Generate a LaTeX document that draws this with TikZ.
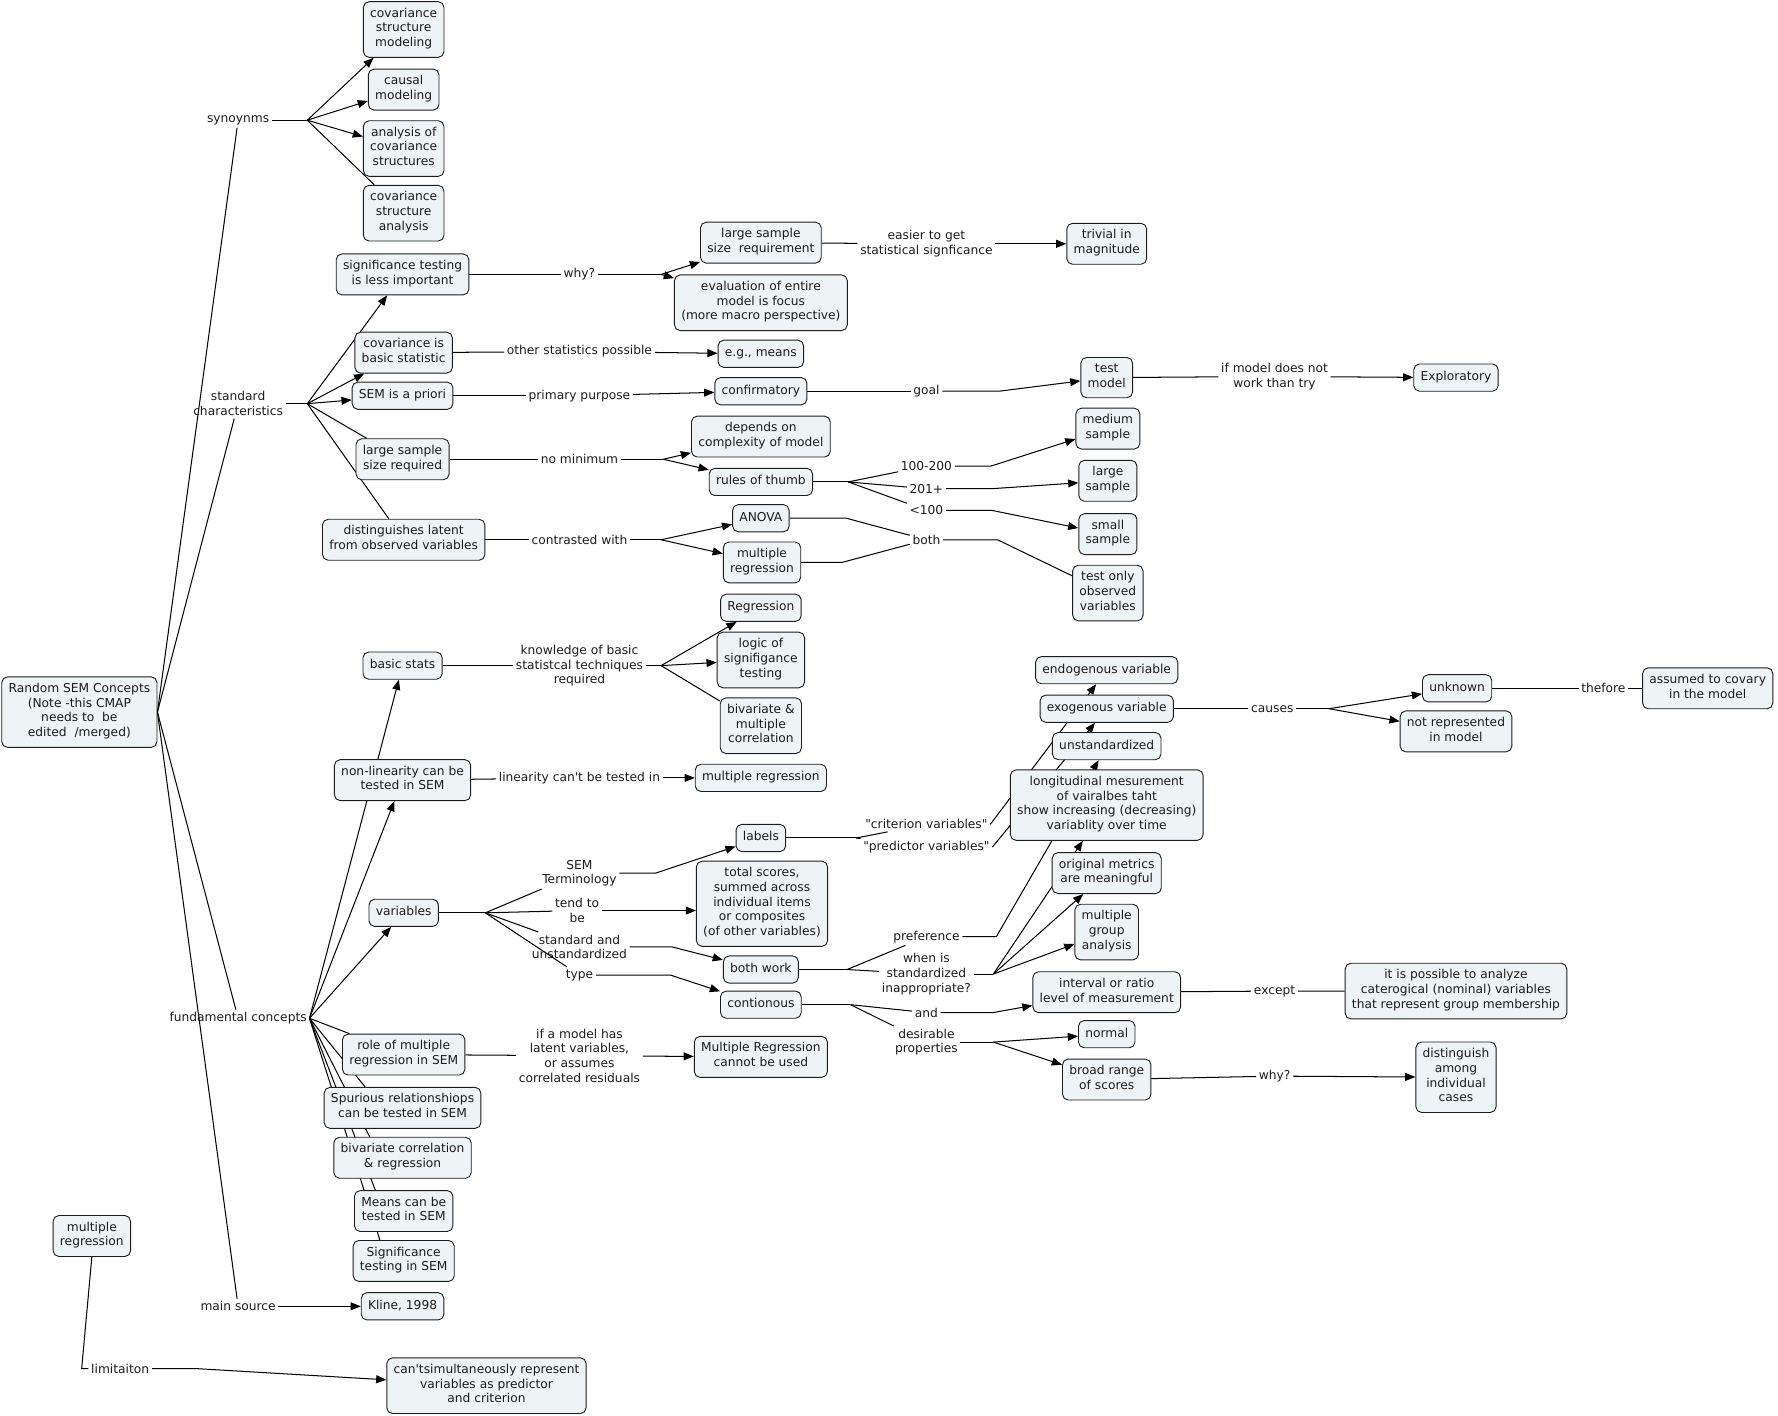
\documentclass[tikz,border=0pt]{standalone}
\usepackage{fontspec}
\setmainfont{DejaVu Sans}
\usetikzlibrary{arrows.meta}
\definecolor{boxfill}{HTML}{EEF3F5}
\definecolor{ink}{HTML}{1C1C1C}
\pgfdeclarelayer{bg}
\pgfsetlayers{bg,main}

\begin{document}
\begin{tikzpicture}[x=1pt,y=-1pt,
	font=\fontsize{10.8}{13}\selectfont, text=ink,
	>={Triangle[length=9pt,width=7pt]},
	cpt/.style={draw=ink, fill=boxfill, rounded corners=5pt, align=center,
		inner xsep=6pt, inner ysep=5.5pt, line width=0.8pt,
		execute at begin node=\strut, execute at end node=\strut},
	lnk/.style={align=center, inner sep=2pt},
	every path/.append style={line width=0.9pt}]
	\useasboundingbox (0,0) rectangle (1568,1248);

	% concepts
	\node[cpt] (random) at (70,628) {Random SEM Concepts\\(Note -this CMAP\\needs to\ \ be\\edited\ \ /merged)};
	\node[cpt] (csm) at (356,26) {covariance\\structure\\modeling};
	\node[cpt] (causal) at (356,79) {causal\\modeling};
	\node[cpt] (acs) at (356,131) {analysis of\\covariance\\structures};
	\node[cpt] (csa) at (356,188) {covariance\\structure\\analysis};
	\node[cpt] (sigless) at (355,242) {significance testing\\is less important};
	\node[cpt] (lss) at (671,214) {large sample\\size\ \ requirement};
	\node[cpt] (evalent) at (671,267) {evaluation of entire\\model is focus\\(more macro perspective)};
	\node[cpt] (trivial) at (976,215) {trivial in\\magnitude};
	\node[cpt] (covbasic) at (356,311) {covariance is\\basic statistic};
	\node[cpt] (egmeans) at (671,312) {e.g., means};
	\node[cpt] (apriori) at (355,349) {SEM is a priori};
	\node[cpt] (confirm) at (671,345) {confirmatory};
	\node[cpt] (testmodel) at (976,333) {test\\model};
	\node[cpt] (explor) at (1284,333) {Exploratory};
	\node[cpt] (lssreq) at (355,405) {large sample\\size required};
	\node[cpt] (depends) at (671,385) {depends on\\complexity of model};
	\node[cpt] (rulesthumb) at (671,425) {rules of thumb};
	\node[cpt] (medium) at (977,378) {medium\\sample};
	\node[cpt] (large) at (977,424) {large\\sample};
	\node[cpt] (small) at (977,471) {small\\sample};
	\node[cpt] (distlat) at (356,476) {distinguishes latent\\from observed variables};
	\node[cpt] (anova) at (671,457) {ANOVA};
	\node[cpt] (mregA) at (672,496) {multiple\\regression};
	\node[cpt] (testonly) at (977,523) {test only\\observed\\variables};
	\node[cpt] (regression) at (671,536) {Regression};
	\node[cpt] (basicstats) at (355,587) {basic stats};
	\node[cpt] (logicsig) at (671,582) {logic of\\signifigance\\testing};
	\node[cpt] (bivmult) at (671,640) {bivariate \&\\multiple\\correlation};
	\node[cpt] (nonlin) at (355,688) {non-linearity can be\\tested in SEM};
	\node[cpt] (mregB) at (671,686) {multiple regression};
	\node[cpt] (endog) at (976,591) {endogenous variable};
	\node[cpt] (exog) at (976,625) {exogenous variable};
	\node[cpt] (unstd) at (976,658) {unstandardized};
	\node[cpt] (longit) at (976,710) {longitudinal mesurement\\of vairalbes taht\\show increasing (decreasing)\\variablity over time};
	\node[cpt] (unknown) at (1285,607) {unknown};
	\node[cpt] (notrep) at (1284,645) {not represented\\in model};
	\node[cpt] (assumed) at (1506,607) {assumed to covary\\in the model};
	\node[cpt] (labels) at (671,739) {labels};
	\node[cpt] (totals) at (672,797) {total scores,\\summed across\\individual items\\or composites\\(of other variables)};
	\node[cpt] (origmet) at (976,770) {original metrics\\are meaningful};
	\node[cpt] (multgrp) at (976,822) {multiple\\group\\analysis};
	\node[cpt] (variables) at (356,805) {variables};
	\node[cpt] (bothwork) at (671,855) {both work};
	\node[cpt] (contin) at (671,886) {contionous};
	\node[cpt] (interval) at (976,875) {interval or ratio\\level of measurement};
	\node[cpt] (catego) at (1284,874) {it is possible to analyze\\caterogical (nominal) variables\\that represent group membership};
	\node[cpt] (normal) at (976,912) {normal};
	\node[cpt] (broad) at (976,952) {broad range\\of scores};
	\node[cpt] (distamong) at (1284,950) {distinguish\\among\\individual\\cases};
	\node[cpt] (rolemr) at (356,930) {role of multiple\\regression in SEM};
	\node[cpt] (mrcannot) at (671,932) {Multiple Regression\\cannot be used};
	\node[cpt] (spurious) at (355,977) {Spurious relationshiops\\can be tested in SEM};
	\node[cpt] (bivcorr) at (355,1021) {bivariate correlation\\\& regression};
	\node[cpt] (means) at (356,1068) {Means can be\\tested in SEM};
	\node[cpt] (sigtest) at (356,1112) {Significance\\testing in SEM};
	\node[cpt] (kline) at (355,1152) {Kline, 1998};
	\node[cpt] (mregC) at (81,1090) {multiple\\regression};
	\node[cpt] (cant) at (429,1222) {can\textquotesingle tsimultaneously represent\\variables as predictor\\and criterion};

	% linking phrases
	\node[lnk] (syn) at (210,106) {synoynms};
	\node[lnk] (stdchar) at (210,356) {standard\\characteristics};
	\node[lnk] (fund) at (210,898) {fundamental concepts};
	\node[lnk] (mainsrc) at (210,1152) {main source};
	\node[lnk] (limit) at (106,1207) {limitaiton};
	\node[lnk] (whyA) at (511,242) {why?};
	\node[lnk] (easier) at (817,215) {easier to get\\statistical signficance};
	\node[lnk] (otherstats) at (511,310) {other statistics possible};
	\node[lnk] (primary) at (511,349) {primary purpose};
	\node[lnk] (goal) at (817,345) {goal};
	\node[lnk] (ifmodel) at (1124,332) {if model does not\\work than try};
	\node[lnk] (nomin) at (511,405) {no minimum};
	\node[lnk] (rmid) at (817,411) {100-200};
	\node[lnk] (rbig) at (817,431) {201+};
	\node[lnk] (rlow) at (817,450) {<100};
	\node[lnk] (contrasted) at (511,476) {contrasted with};
	\node[lnk] (both) at (817,476) {both};
	\node[lnk] (knowledge) at (511,587) {knowledge of basic\\statistcal techniques\\required};
	\node[lnk] (causes) at (1122,625) {causes};
	\node[lnk] (thefore) at (1414,607) {thefore};
	\node[lnk] (linearity) at (511,686) {linearity can\textquotesingle t be tested in};
	\node[lnk] (criterion) at (817,727) {\textquotedbl criterion variables\textquotedbl};
	\node[lnk] (predictor) at (817,747) {\textquotedbl predictor variables\textquotedbl};
	\node[lnk] (semterm) at (511,770) {SEM\\Terminology};
	\node[lnk] (tendto) at (509,803) {tend to\\be};
	\node[lnk] (stdunstd) at (511,835) {standard and\\unstandardized};
	\node[lnk] (type) at (511,860) {type};
	\node[lnk] (preference) at (817,826) {preference};
	\node[lnk] (whenstd) at (817,859) {when is\\standardized\\inappropriate?};
	\node[lnk] (and) at (817,893) {and};
	\node[lnk] (desirable) at (817,919) {desirable\\properties};
	\node[lnk] (except) at (1124,874) {except};
	\node[lnk] (whyB) at (1124,949) {why?};
	\node[lnk] (ifmodelhas) at (511,931) {if a model has\\latent variables,\\or assumes\\correlated residuals};

	% junctions
	\coordinate (jsyn) at (271,106);
	\coordinate (jstd) at (271,356);
	\coordinate (jwhy) at (583,242);
	\coordinate (jnom) at (585,405);
	\coordinate (jrule) at (748,425);
	\coordinate (jcon) at (583,476);
	\coordinate (jkn) at (583,587);
	\coordinate (jcau) at (1172,625);
	\coordinate (jlab) at (755,739);
	\coordinate (jvar) at (428,805);
	\coordinate (jboth) at (747,855);
	\coordinate (jwhen) at (876,859);
	\coordinate (jcont) at (750,886);
	\coordinate (jdes) at (876,919);

	\begin{pgfonlayer}{bg}
	% root
	\draw (random.east) -- (syn);
	\draw (random.east) -- (stdchar);
	\draw (random.east) -- (fund);
	\draw (random.east) -- (mainsrc);
	% synonyms
	\draw (syn) -- (jsyn);
	\draw[->] (jsyn) -- (csm);
	\draw[->] (jsyn) -- (causal);
	\draw[->] (jsyn) -- (acs);
	\draw (jsyn) -- (csa);
	% standard characteristics
	\draw (stdchar) -- (jstd);
	\draw[->] (jstd) -- (sigless);
	\draw[->] (jstd) -- (covbasic);
	\draw[->] (jstd) -- (apriori);
	\draw (jstd) -- (lssreq);
	\draw (jstd) -- (distlat);
	\draw (sigless) -- (whyA) -- (jwhy);
	\draw[->] (jwhy) -- (lss);
	\draw[->] (jwhy) -- (evalent);
	\draw (lss) -- (easier);
	\draw[->] (easier) -- (trivial);
	\draw (covbasic) -- (otherstats);
	\draw[->] (otherstats) -- (egmeans);
	\draw (apriori) -- (primary);
	\draw[->] (primary) -- (confirm);
	\draw (confirm) -- (goal);
	\draw[->] (goal.east) -- ++(50,0) -- (testmodel);
	\draw (testmodel) -- (ifmodel);
	\draw[->] (ifmodel) -- (explor);
	\draw (lssreq) -- (nomin) -- (jnom);
	\draw[->] (jnom) -- (depends);
	\draw[->] (jnom) -- (rulesthumb);
	\draw (rulesthumb) -- (jrule);
	\draw (jrule) -- (rmid);
	\draw (jrule) -- (rbig);
	\draw (jrule) -- (rlow);
	\draw[->] (rmid.east) -- ++(32,0) -- (medium);
	\draw[->] (rbig.east) -- ++(40,0) -- (large);
	\draw[->] (rlow.east) -- ++(40,0) -- (small);
	\draw (distlat) -- (contrasted) -- (jcon);
	\draw[->] (jcon) -- (anova);
	\draw[->] (jcon) -- (mregA);
	\draw (anova.east) -- ++(50,0) -- (both);
	\draw (mregA.east) -- ++(36,0) -- (both);
	\draw (both.east) -- ++(48,0) -- (testonly);
	% fundamental concepts
	\draw[->] (fund.east) -- (basicstats);
	\draw[->] (fund.east) -- (nonlin);
	\draw[->] (fund.east) -- (variables);
	\draw (fund.east) -- (rolemr);
	\draw (fund.east) -- ([xshift=-33pt]spurious.north);
	\draw (fund.east) -- ([xshift=-29pt]bivcorr.north);
	\draw (fund.east) -- ([xshift=-25pt]means.north);
	\draw (fund.east) -- ([xshift=-21pt]sigtest.north);
	\draw (basicstats) -- (knowledge) -- (jkn);
	\draw[->] (jkn) -- (regression);
	\draw[->] (jkn) -- (logicsig);
	\draw (jkn) -- (bivmult);
	\draw (nonlin) -- (linearity);
	\draw[->] (linearity) -- (mregB);
	\draw (variables) -- (jvar);
	\draw (jvar) -- (semterm);
	\draw (jvar) -- (tendto);
	\draw (jvar) -- (stdunstd);
	\draw (jvar) -- (type);
	\draw[->] (semterm.east) -- ++(32,0) -- (labels);
	\draw[->] (tendto) -- (tendto -| totals.west);
	\draw[->] (stdunstd.east) -- ++(37,0) -- (bothwork);
	\draw[->] (type.east) -- ++(66,0) -- (contin);
	\draw (labels) -- (jlab);
	\draw (jlab) -- (criterion);
	\draw (jlab) -- (predictor);
	\draw[->] (criterion.east) -- (endog);
	\draw[->] (predictor.east) -- (exog);
	\draw (exog) -- (causes) -- (jcau);
	\draw[->] (jcau) -- (unknown);
	\draw[->] (jcau) -- (notrep);
	\draw (unknown) -- (thefore) -- (assumed);
	\draw (bothwork) -- (jboth);
	\draw (jboth) -- (preference);
	\draw (jboth) -- (whenstd);
	\draw[->] (preference.east) -- ++(30,0) -- (unstd);
	\draw (whenstd.east) -- (jwhen);
	\draw[->] (jwhen) -- (longit);
	\draw[->] (jwhen) -- (origmet);
	\draw[->] (jwhen) -- (multgrp);
	\draw (contin) -- (jcont);
	\draw (jcont) -- (and);
	\draw (jcont) -- (desirable);
	\draw[->] (and.east) -- ++(46,0) -- (interval);
	\draw (desirable.east) -- (jdes);
	\draw[->] (jdes) -- (normal);
	\draw[->] (jdes) -- (broad);
	\draw (interval) -- (except) -- (catego);
	\draw (broad) -- (whyB);
	\draw[->] (whyB) -- (distamong);
	\draw (rolemr) -- (ifmodelhas);
	\draw[->] (ifmodelhas) -- (mrcannot);
	% main source and limitation
	\draw[->] (mainsrc) -- (kline);
	\draw (mregC.south) -- ([xshift=-6pt]limit.west) -- (limit.west);
	\draw[->] (limit.east) -- ++(40,0) -- (cant);
	\end{pgfonlayer}
\end{tikzpicture}
\end{document}
